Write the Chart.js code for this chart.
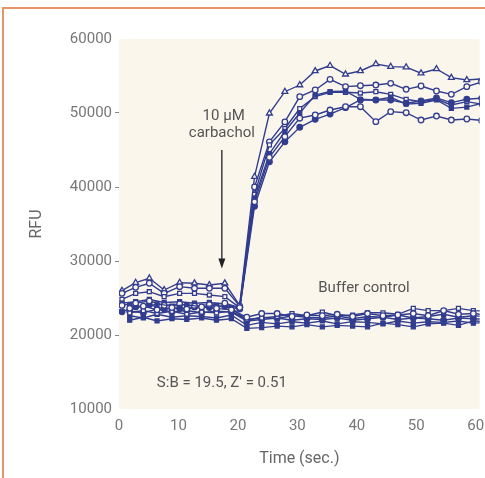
<!DOCTYPE html>
<html>
  <head>
    <meta charset="UTF-8">
    <style>
      body { margin: 0; background: #fff; }
      #wrap { position: relative; width: 485px; height: 478px; }
      #frame { position: absolute; left: 2px; top: 7px; right: 0; bottom: 0;
               border-top: 2px solid #e8946b; border-left: 2px solid #e8946b; pointer-events: none; }
    </style>
  </head>
  <body>
    <div id="wrap">
      <canvas id="rfu" width="485" height="478"></canvas>
      <div id="frame"></div>
    </div>

    <script src="https://cdn.jsdelivr.net/npm/chart.js@4.4.0/dist/chart.umd.min.js"></script>

    <script type="text/javascript">

      const FONT = 'Roboto, "Liberation Sans", sans-serif';
      const BLUE = '#323d8f';
      const CREAM = '#faf6ec';

      // time points (sec.) for the carbachol wells and for the buffer wells
      const timeStim = [0.5, 2.8, 5.1, 7.6, 10.2, 12.7, 15.2, 17.8, 20.3, 22.8, 25.3, 27.9, 30.4,
                        33.0, 35.5, 38.1, 40.6, 43.2, 45.7, 48.3, 50.8, 53.4, 55.9, 58.5, 61.0];
      const timeBuf  = [1.8, 4.1, 6.4, 8.9, 11.4, 13.9, 16.4, 18.9, 21.5, 24.0, 26.6, 29.1, 31.6,
                        34.2, 36.7, 39.3, 41.8, 44.4, 46.9, 49.5, 52.0, 54.6, 57.1, 59.6, 62.1];

      // 10 uM carbachol
      const stimTriangle = [25990, 27070, 27660, 26080, 27070, 26990, 26760, 26990, 24000, 41400, 49960, 52880, 53780,
                            55680, 56400, 55230, 55680, 56620, 56260, 56200, 55370, 55950, 54770, 54460, 54600];
      const stimCircle   = [25630, 26440, 26990, 25630, 26530, 26310, 26310, 26310, 23900, 40000, 46100, 48800, 52210,
                            53110, 54550, 53560, 53690, 53780, 54010, 53200, 53650, 52970, 52520, 53560, 54200];
      const stimSquare   = [24820, 25630, 25850, 25180, 25630, 25630, 25400, 25180, 23700, 39000, 45700, 47900, 50600,
                            52210, 52800, 52800, 52700, 52880, 52520, 51850, 51530, 51850, 51080, 51530, 51200];
      const stimSquareF  = [24300, 24500, 24800, 24400, 24500, 24300, 24400, 24200, 23600, 38500, 44500, 47500, 50000,
                            52430, 52900, 52950, 51850, 51760, 52130, 51200, 51310, 51760, 50630, 50800, 51300];
      const stimCircleF  = [23150, 23800, 24100, 23500, 23600, 23800, 23700, 23900, 23500, 37400, 43400, 46100, 48070,
                            49150, 49860, 50720, 51760, 51760, 51760, 51310, 51630, 52030, 51400, 51850, 52000];
      const stimCircleLo = [24000, 24300, 24600, 24000, 24200, 23900, 24100, 24300, 23700, 38000, 44000, 46800, 49300,
                            49730, 50400, 50850, 50850, 48830, 50180, 50040, 49050, 49590, 49050, 49190, 49000];

      // buffer control
      const bufCircle  = [23600, 23900, 23400, 23700, 23500, 23800, 23600, 23400, 22400, 22900, 22900, 22500, 22700,
                          22600, 22800, 22500, 22900, 22600, 22700, 22900, 22600, 23300, 22800, 22900, 22700];
      const bufSquare  = [23000, 23300, 22900, 23200, 22800, 23100, 23000, 23200, 22100, 22300, 22500, 22900, 22600,
                          23100, 22600, 22700, 23000, 23000, 22800, 23600, 23300, 23300, 23600, 23300, 23200];
      const bufSquareF = [22000, 22400, 21900, 22200, 22100, 22300, 22000, 22200, 20900, 21000, 21200, 21100, 21400,
                          21100, 21300, 21200, 21100, 21600, 21400, 21100, 21500, 21600, 21300, 21900, 21800];
      const bufCircleF = [23200, 23000, 23500, 23100, 23300, 23000, 23200, 23100, 21900, 22100, 22300, 22000, 22200,
                          22100, 22300, 22000, 22200, 22400, 22100, 22300, 22200, 22000, 22300, 22200, 22100];
      const bufSquareF2 = [22600, 22300, 22800, 22400, 22600, 22500, 22300, 22700, 21300, 21700, 21500, 21800, 21600,
                           21900, 21500, 21800, 21700, 21500, 21900, 21600, 21800, 21700, 21900, 21600, 21700];
      const bufSquareF3 = [24000, 23700, 24200, 23900, 24100, 23800, 24000, 23700, 22000, 22400, 22200, 22600, 22400,
                           22300, 22600, 22200, 22500, 22400, 22700, 22300, 22500, 22800, 22400, 22600, 22500];

      const xTicks = [0, 10, 20, 30, 40, 50, 60];
      const yTicks = [10000, 20000, 30000, 40000, 50000, 60000];

      function series(times, values, style, filled, radius) {
        return {
          data: values.map((v, i) => ({x: times[i], y: v})),
          borderColor: BLUE,
          borderWidth: 1.4,
          pointStyle: style,
          pointRadius: radius || 2.8,
          pointBorderWidth: 1.3,
          pointBorderColor: BLUE,
          pointBackgroundColor: filled ? BLUE : CREAM,
          tension: 0
        };
      }

      const bgPlugin = {
        id: 'bg',
        beforeDraw(chart) {
          const a = chart.chartArea, c = chart.ctx;
          c.save();
          c.fillStyle = CREAM;
          c.fillRect(a.left, a.top, a.right - a.left, a.bottom - a.top);
          c.restore();
        }
      };

      const notePlugin = {
        id: 'notes',
        afterDatasetsDraw(chart) {
          const c = chart.ctx, x = chart.scales.x, y = chart.scales.y;
          c.save();
          c.fillStyle = '#555';
          c.font = '15px ' + FONT;
          c.textAlign = 'center';
          c.textBaseline = 'middle';
          c.fillText('10 µM', x.getPixelForValue(17.6), y.getPixelForValue(49600));
          c.fillText('carbachol', x.getPixelForValue(17.3), y.getPixelForValue(47300));
          c.fillText('Buffer control', x.getPixelForValue(41.2), y.getPixelForValue(26350));
          c.fillText("S:B = 19.5, Z' = 0.51", x.getPixelForValue(17.3), y.getPixelForValue(13500));
          // arrow
          const ax = x.getPixelForValue(17.3);
          const y1 = y.getPixelForValue(45000), y2 = y.getPixelForValue(29000);
          c.strokeStyle = '#222';
          c.fillStyle = '#222';
          c.lineWidth = 1.3;
          c.beginPath();
          c.moveTo(ax, y1);
          c.lineTo(ax, y2 - 8);
          c.stroke();
          c.beginPath();
          c.moveTo(ax - 3.5, y2 - 10);
          c.lineTo(ax + 3.5, y2 - 10);
          c.lineTo(ax, y2);
          c.closePath();
          c.fill();
          c.restore();
        }
      };

      new Chart(document.getElementById('rfu'), {
        type: 'line',
        data: {
          datasets: [
            series(timeBuf, bufCircle, 'circle', false),
            series(timeBuf, bufSquare, 'rect', false),
            series(timeBuf, bufSquareF, 'rect', true),
            series(timeBuf, bufCircleF, 'circle', true),
            series(timeBuf, bufSquareF2, 'rect', true),
            series(timeBuf, bufSquareF3, 'rect', true),
            series(timeStim, stimCircleLo, 'circle', false),
            series(timeStim, stimCircleF, 'circle', true),
            series(timeStim, stimSquareF, 'rect', true),
            series(timeStim, stimSquare, 'rect', false),
            series(timeStim, stimCircle, 'circle', false),
            series(timeStim, stimTriangle, 'triangle', false, 3.4)
          ]
        },
        options: {
          responsive: false,
          animation: false,
          layout: { padding: { top: 39, right: 2, left: 0, bottom: 0 } },
          plugins: { legend: { display: false }, tooltip: { enabled: false } },
          scales: {
            x: {
              type: 'linear',
              min: 0,
              max: 60.67,
              afterBuildTicks: s => { s.ticks = xTicks.map(v => ({value: v})); },
              afterFit: s => { s.height = 69; s.paddingLeft = 0; s.paddingRight = 0; },
              grid: { display: false, drawTicks: false },
              border: { display: false },
              ticks: { color: '#777', font: { family: FONT, size: 15 }, padding: 8, maxRotation: 0,
                       callback: v => String(v) },
              title: { display: true, text: 'Time (sec.)', color: '#666',
                       font: { family: FONT, size: 16 }, padding: { top: 0, bottom: 9 } }
            },
            y: {
              min: 10000,
              max: 60000,
              afterBuildTicks: s => { s.ticks = yTicks.map(v => ({value: v})); },
              afterFit: s => { s.width = 119; s.paddingTop = 0; s.paddingBottom = 0; },
              grid: {
                drawOnChartArea: false,
                tickLength: 4,
                color: ctx => (ctx.tick && (ctx.tick.value === 10000 || ctx.tick.value === 60000)) ? 'rgba(0,0,0,0)' : '#888'
              },
              border: { display: false },
              ticks: { color: '#777', font: { family: FONT, size: 15 }, padding: 3,
                       callback: v => String(v) },
              title: { display: true, text: 'RFU', color: '#666',
                       font: { family: FONT, size: 16 }, padding: { top: 27, bottom: 0 } }
            }
          }
        },
        plugins: [bgPlugin, notePlugin]
      });

    </script>
  </body>
</html>
